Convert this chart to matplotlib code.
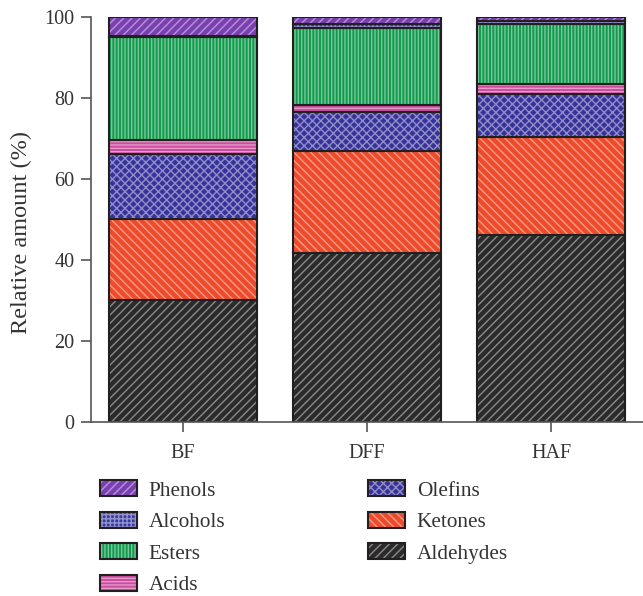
import numpy as np
import matplotlib.pyplot as plt
from matplotlib.legend_handler import HandlerTuple

plt.rcParams['font.family'] = ['Liberation Serif', 'DejaVu Serif']
plt.rcParams['hatch.linewidth'] = 1.0

samples = ['BF', 'DFF', 'HAF']

# relative amounts (%), stacked bottom to top
aldehydes = [30.1, 41.7, 46.2]
ketones = [20.0, 25.3, 24.2]
olefins = [16.1, 9.5, 10.6]
acids = [3.4, 1.8, 2.5]
esters = [25.5, 19.0, 14.8]
alcohols = [0.3, 1.0, 0.7]
phenols = [4.6, 1.7, 1.0]

groups = ['Aldehydes', 'Ketones', 'Olefins', 'Acids', 'Esters', 'Alcohols', 'Phenols']
values = [aldehydes, ketones, olefins, acids, esters, alcohols, phenols]
colors = ['#2b2b2b', '#ee4b2b', '#37339a', '#cc4c9f', '#0f9a4c', '#3b3ba6', '#7a40b2']
hatches = ['////', '\\\\\\\\', 'xxxx', '-----', '|||||', '++++', '////']

fig = plt.figure(figsize=(6.43, 5.96), dpi=100)
ax = fig.add_axes([91 / 643, 1 - 422 / 596, 1 - 91 / 643, (422 - 17) / 596])

x = np.arange(len(samples))
bottom = np.zeros(len(samples))
handles = []
for name, vals, c, h in zip(groups, values, colors, hatches):
    vals = np.array(vals)
    # fill with light hatch lines, then a dark outline on top
    fill = ax.bar(x, vals, 0.8, bottom=bottom, color=c, hatch=h,
                  edgecolor=(1, 1, 1, 0.45), linewidth=0)
    edge = ax.bar(x, vals, 0.8, bottom=bottom, fill=False,
                  edgecolor='#231f20', linewidth=1.5)
    handles.append((fill[0], edge[0]))
    bottom += vals

ax.set_xlim(-0.5, 2.5)
ax.set_ylim(0, 100)
ax.set_xticks(x)
ax.set_xticklabels(samples)
ax.set_yticks([0, 20, 40, 60, 80, 100])
ax.set_ylabel('Relative amount (%)', fontsize=17.5, color='#333333')
ax.yaxis.set_label_coords(-0.107, 0.467)
ax.tick_params(labelsize=14.5, colors='#555555', labelcolor='#333333',
               length=7, width=1.2, direction='out', pad=5)
ax.tick_params(axis='x', pad=9)
for side in ['top', 'right']:
    ax.spines[side].set_visible(False)
for side in ['left', 'bottom']:
    ax.spines[side].set_color('#555555')
    ax.spines[side].set_linewidth(1.2)

order = [6, 5, 4, 3, 2, 1, 0]
fig.legend([handles[i] for i in order], [groups[i] for i in order],
           handler_map={tuple: HandlerTuple(ndivide=1, pad=0)},
           loc='upper left', bbox_to_anchor=(100 / 643, 1 - 480 / 596),
           ncol=2, frameon=False, fontsize=15.3, borderpad=0, borderaxespad=0,
           handlelength=1.75, handleheight=0.8, handletextpad=0.55,
           labelspacing=0.52, columnspacing=6.7, labelcolor='#333333')

fig.savefig('out.png', dpi=100)
